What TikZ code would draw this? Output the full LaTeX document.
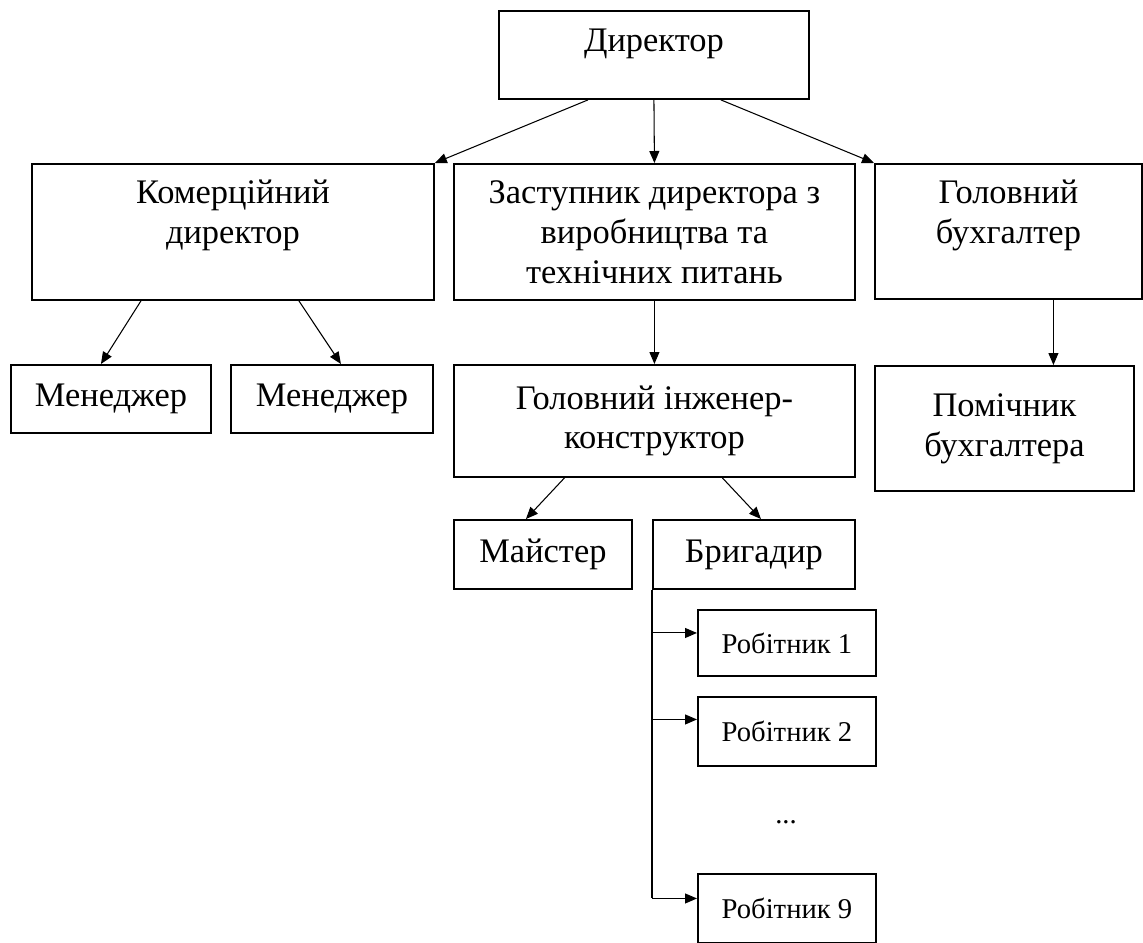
\documentclass[tikz,border=0pt]{standalone}
\usepackage{fontspec}
\setmainfont{Liberation Serif}
\usetikzlibrary{arrows.meta}

\begin{document}
\begin{tikzpicture}[x=0.02cm, y=-0.02cm, >={Triangle[length=0.24cm, width=0.2cm]},
  post/.style={draw, line width=1.1pt, inner sep=0pt, anchor=north west,
    align=center, font=\fontsize{19.6}{22.7}\selectfont},
  worker/.style={post, font=\fontsize{16.3}{19}\selectfont},
  link/.style={line width=0.6pt, ->}]

  % page frame
  \useasboundingbox (0,0) rectangle (1143,943);

  % ============================================================
  % TOP: director
  % ============================================================
  \node[post, minimum width=6.2cm, minimum height=1.76cm, text depth=0.6cm]
    (dir) at (498,10) {Директор};

  % ============================================================
  % SECOND LEVEL
  % ============================================================
  \node[post, minimum width=8.04cm, minimum height=2.72cm]
    (kom) at (31,163) {Комерційний\\директор\\~};
  \node[post, minimum width=8.02cm, minimum height=2.72cm]
    (zas) at (453,163) {Заступник директора з\\виробництва та\\технічних питань};
  \node[post, minimum width=5.34cm, minimum height=2.7cm]
    (bux) at (874,163) {Головний\\бухгалтер\\~};

  \draw[link] ([xshift=-1.32cm]dir.south) -- (kom.north east);
  \draw[link] (dir.south) -- (zas.north);
  \draw[link] ([xshift=1.34cm]dir.south) -- (bux.north west);

  % ============================================================
  % THIRD LEVEL
  % ============================================================
  \node[post, minimum width=4cm, minimum height=1.36cm]
    (men1) at (10,364) {Менеджер};
  \node[post, minimum width=4.04cm, minimum height=1.36cm]
    (men2) at (230,364) {Менеджер};
  \node[post, minimum width=8.02cm, minimum height=2.24cm]
    (ing) at (453,364) {Головний інженер-\\конструктор};
  \node[post, minimum width=5.18cm, minimum height=2.5cm]
    (pom) at (874,365) {Помічник\\бухгалтера};

  \draw[link] ([xshift=-1.84cm]kom.south) -- ([xshift=-0.2cm]men1.north);
  \draw[link] ([xshift=1.32cm]kom.south) -- ([xshift=0.18cm]men2.north);
  \draw[link] (zas.south) -- (ing.north);
  \draw[link] ([xshift=0.9cm]bux.south) -- ([xshift=0.9cm]bux.south |- pom.north);

  % ============================================================
  % FOURTH LEVEL
  % ============================================================
  \node[post, minimum width=3.56cm, minimum height=1.38cm]
    (mai) at (453,519) {Майстер};
  \node[post, minimum width=4.04cm, minimum height=1.38cm]
    (brig) at (652,519) {Бригадир};

  \draw[link] ([xshift=-1.8cm]ing.south) -- ([xshift=-0.34cm]mai.north);
  \draw[link] ([xshift=1.36cm]ing.south) -- ([xshift=0.14cm]brig.north);

  % ============================================================
  % WORKERS
  % ============================================================
  \node[worker, minimum width=3.56cm, minimum height=1.32cm]
    (w1) at (697,609) {Робітник 1};
  \node[worker, minimum width=3.56cm, minimum height=1.38cm]
    (w2) at (697,696) {Робітник 2};
  \node[font=\fontsize{16.3}{19}\selectfont] (dots) at (786,822) {...};
  \node[worker, minimum width=3.56cm, minimum height=1.38cm]
    (w9) at (697,873) {Робітник 9};

  % bus line from the foreman
  \path ([yshift=0.2cm]w1.west) coordinate (t1)
        ([yshift=0.24cm]w2.west) coordinate (t2)
        ([yshift=0.2cm]w9.west) coordinate (t9);
  \draw[line width=0.8pt] (brig.south west) -- (brig.south west |- t9);
  \foreach \t in {t1, t2, t9} {
    \draw[link] (brig.south west |- \t) -- (\t);
  }

\end{tikzpicture}
\end{document}
